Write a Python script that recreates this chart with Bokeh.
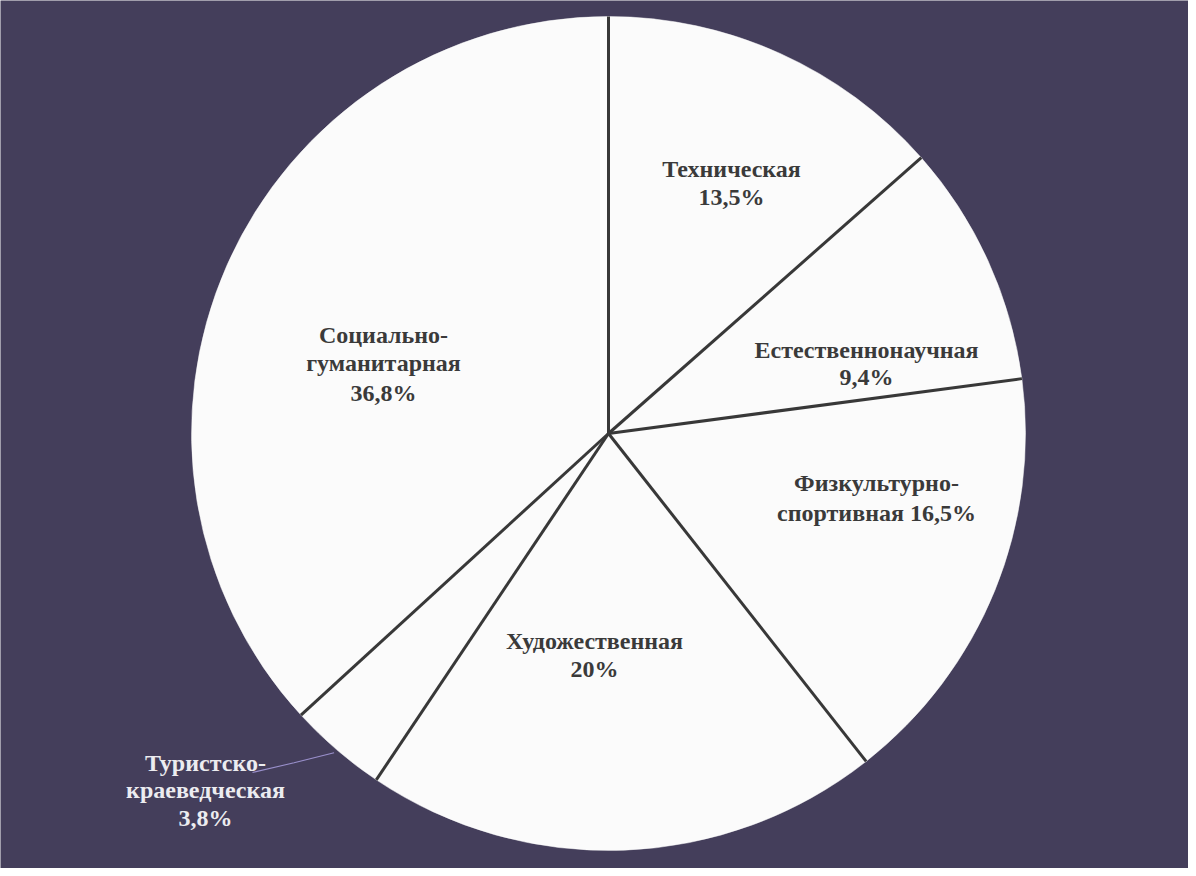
import numpy as np
from bokeh.plotting import figure
from bokeh.models import Range1d, ColumnDataSource
from bokeh.embed import file_html
from bokeh.resources import INLINE
from bokeh.core.properties import value

# ---- data (clockwise from 12 o'clock) ----
categories = ["Техническая", "Естественнонаучная", "Физкультурно-спортивная",
              "Художественная", "Туристско-краеведческая", "Социально-гуманитарная"]
shares = [13.5, 9.4, 16.5, 20.0, 3.8, 36.8]

# ---- layout ----
W, H = 1188, 868
CX, CY_SCREEN, R = 608, 433, 417
CY = H - CY_SCREEN
BG = "#443e5b"

p = figure(width=W, height=H, x_range=Range1d(0, W), y_range=Range1d(0, H),
           output_backend="svg", toolbar_location=None, min_border=0,
           x_axis_location=None, y_axis_location=None)
p.grid.visible = False
p.outline_line_color = None
p.background_fill_color = BG
p.border_fill_color = BG

frac = np.array(shares) / sum(shares)
cum = np.concatenate([[0.0], np.cumsum(frac)])
start = np.pi / 2 - cum[:-1] * 2 * np.pi
end = np.pi / 2 - cum[1:] * 2 * np.pi

src = ColumnDataSource(dict(cat=categories, share=shares, start=start, end=end))
p.wedge(x=CX, y=CY, radius=R, start_angle="start", end_angle="end",
        direction="clock", source=src, fill_color="#fbfbfb", line_color="#fbfbfb",
        line_width=0.5)

# separators
p.segment(x0=[CX] * len(start), y0=[CY] * len(start),
          x1=list(CX + R * np.cos(start)), y1=list(CY + R * np.sin(start)),
          line_color="#383838", line_width=3)

# leader line for the small slice (Туристско-краеведческая)
i_small = categories.index("Туристско-краеведческая")
mid = (start[i_small] + end[i_small]) / 2
lx0 = CX + (R + 4) * np.cos(mid)
ly0 = CY + (R + 4) * np.sin(mid)
p.line(x=[lx0, lx0 - 40, 252], y=[ly0, ly0 - 10, H - 772],
       line_color="#9a90cc", line_width=1.2)

# labels
def fmt(v):
    return ("%g" % v).replace(".", ",") + "%"

DARK = "#3a3a3a"
label_lines = {
    "Техническая": (["Техническая", fmt(shares[0])], 731, [168, 196], DARK),
    "Естественнонаучная": (["Естественнонаучная", fmt(shares[1])], 866, [349, 376], DARK),
    "Физкультурно-спортивная": (["Физкультурно-", "спортивная " + fmt(shares[2])], 876, [482, 512], DARK),
    "Художественная": (["Художественная", fmt(shares[3])], 594, [640, 668], DARK),
    "Туристско-краеведческая": (["Туристско-", "краеведческая", fmt(shares[4])], 205, [762, 789, 817], "#ececf0"),
    "Социально-гуманитарная": (["Социально-", "гуманитарная", fmt(shares[5])], 383, [334, 362, 392], DARK),
}

tx, ty, tt, tc = [], [], [], []
for cat in categories:
    lines, x, ys, col = label_lines[cat]
    for line, y in zip(lines, ys):
        tx.append(x)
        ty.append(H - y)
        tt.append(line)
        tc.append(col)

p.text(x=tx, y=ty, text=tt, text_color=tc, text_align="center",
       text_baseline="middle",
       text_font=value("'Liberation Serif', 'Times New Roman', 'DejaVu Serif', serif"),
       text_font_style="bold", text_font_size="24px")

open("out.html", "w").write(file_html(p, INLINE))
